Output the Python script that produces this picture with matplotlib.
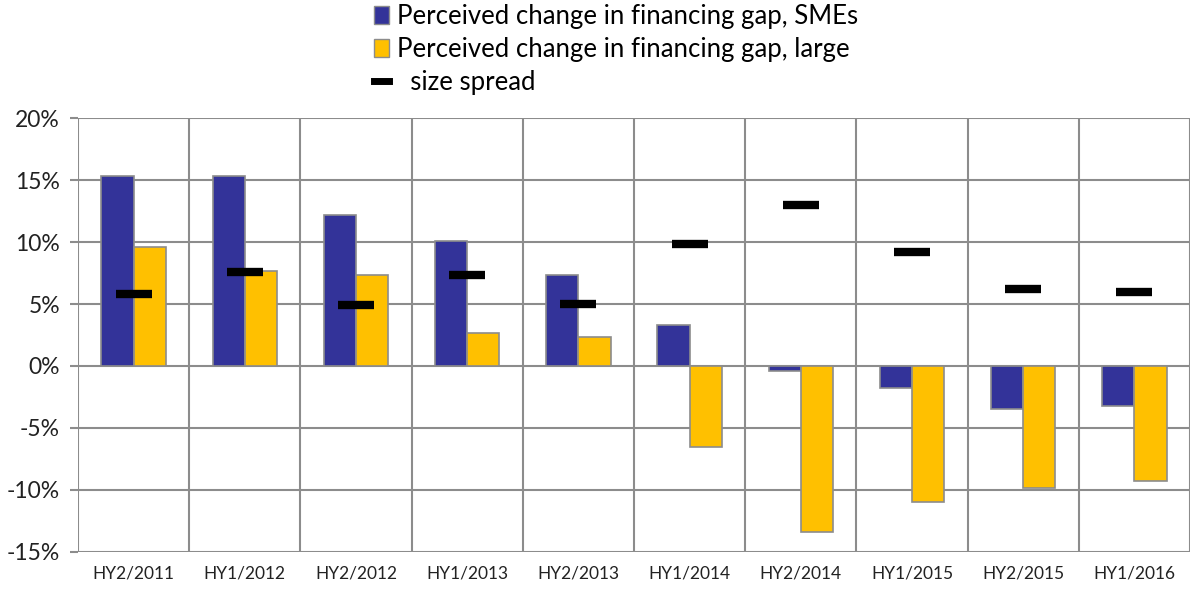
import matplotlib.pyplot as plt
import numpy as np
from matplotlib.lines import Line2D
from matplotlib.patches import Patch

periods = ["HY2/2011", "HY1/2012", "HY2/2012", "HY1/2013", "HY2/2013",
           "HY1/2014", "HY2/2014", "HY1/2015", "HY2/2015", "HY1/2016"]
smes = [15.3, 15.3, 12.2, 10.1, 7.3, 3.3, -0.4, -1.8, -3.5, -3.2]
large = [9.6, 7.7, 7.3, 2.7, 2.3, -6.5, -13.4, -11.0, -9.8, -9.3]
spread = [5.8, 7.6, 4.9, 7.3, 5.0, 9.8, 13.0, 9.2, 6.2, 6.0]

blue = "#333399"
gold = "#ffc000"
grid_c = "#8c8c8c"

plt.rcParams["font.family"] = ["Lato", "DejaVu Sans"]

fig = plt.figure(figsize=(11.92, 5.90), dpi=100)
ax = fig.add_axes([78 / 1192, 38 / 590, 1112 / 1192, 434 / 590])

x = np.arange(len(periods))
w = 0.29
ax.bar(x - w / 2, smes, w, color=blue, edgecolor=grid_c, linewidth=1.2, zorder=3)
ax.bar(x + w / 2, large, w, color=gold, edgecolor=grid_c, linewidth=1.2, zorder=3)
ax.scatter(x, spread, marker="_", s=680, linewidths=6, color="black", zorder=4)

ax.set_xlim(-0.5, len(periods) - 0.5)
ax.set_ylim(-15, 20)
ax.set_yticks(np.arange(-15, 21, 5))
ax.set_yticklabels([f"{v}%" for v in range(-15, 21, 5)], fontsize=16.5, color="#222222")
ax.set_xticks(x)
ax.set_xticklabels(periods, fontsize=12.5, color="#222222")
ax.tick_params(axis="x", length=0, pad=10)
ax.tick_params(axis="y", length=6, width=1.5, color=grid_c, pad=7)

for yv in range(-15, 21, 5):
    ax.axhline(yv, color=grid_c, linewidth=1.5, zorder=1)
for xv in np.arange(-0.5, len(periods), 1.0):
    ax.axvline(xv, color=grid_c, linewidth=1.5, zorder=1)
for s in ax.spines.values():
    s.set_visible(False)

handles = [
    Patch(facecolor=blue, edgecolor=grid_c, label="Perceived change in financing gap, SMEs"),
    Patch(facecolor=gold, edgecolor=grid_c, label="Perceived change in financing gap, large"),
    Line2D([], [], color="black", linewidth=5, label="  size spread"),
]
fig.legend(handles=handles, loc="upper left", bbox_to_anchor=(356 / 1192, 1.024),
           frameon=False, fontsize=18.5, handlelength=0.6, handleheight=0.7,
           handletextpad=0.3, labelspacing=0.32, borderpad=0.2)

fig.savefig("out.png", dpi=100)
